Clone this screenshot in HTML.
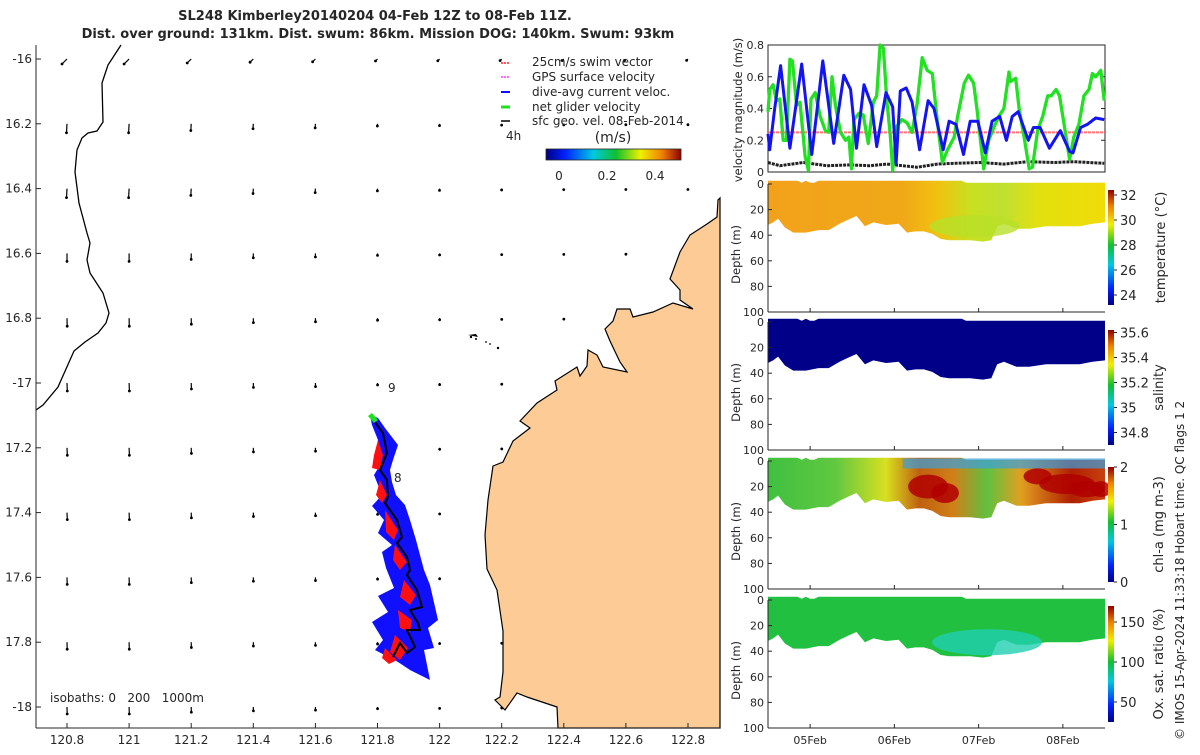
<!DOCTYPE html>
<html><head><meta charset="utf-8"><title>SL248 Kimberley glider mission</title>
<style>
html,body{margin:0;padding:0;background:#fff;}
body{width:1200px;height:750px;overflow:hidden;font-family:"Liberation Sans","DejaVu Sans",sans-serif;}
svg text{font-family:"DejaVu Sans","Liberation Sans",sans-serif;fill:#262626;}
</style></head>
<body>
<svg id="fig" width="1200" height="750" viewBox="0 0 1200 750" xmlns="http://www.w3.org/2000/svg">
<defs>
<linearGradient id="jetV" x1="0" y1="1" x2="0" y2="0">
<stop offset="0" stop-color="#00007f"/><stop offset="0.14" stop-color="#0020ff"/><stop offset="0.35" stop-color="#00c8e0"/><stop offset="0.52" stop-color="#10c030"/><stop offset="0.7" stop-color="#f0f000"/><stop offset="0.86" stop-color="#f08000"/><stop offset="1" stop-color="#8f0000"/>
</linearGradient>
<linearGradient id="jetH" x1="0" y1="0" x2="1" y2="0">
<stop offset="0" stop-color="#00007f"/><stop offset="0.14" stop-color="#0020ff"/><stop offset="0.35" stop-color="#00c8e0"/><stop offset="0.52" stop-color="#10c030"/><stop offset="0.7" stop-color="#f0f000"/><stop offset="0.86" stop-color="#f08000"/><stop offset="1" stop-color="#8f0000"/>
</linearGradient>
<linearGradient id="tempG" x1="0" y1="0" x2="1" y2="0">
<stop offset="0" stop-color="#f2a21a"/><stop offset="0.4" stop-color="#f0a818"/><stop offset="0.5" stop-color="#f2c010"/><stop offset="0.6" stop-color="#c8e020"/><stop offset="0.7" stop-color="#c0e030"/><stop offset="0.8" stop-color="#e2e010"/><stop offset="1" stop-color="#f0dc08"/>
</linearGradient>
<linearGradient id="chlG" x1="0" y1="0" x2="1" y2="0">
<stop offset="0" stop-color="#40c040"/><stop offset="0.2" stop-color="#60c840"/><stop offset="0.35" stop-color="#d8e020"/><stop offset="0.45" stop-color="#c06010"/><stop offset="0.55" stop-color="#d08018"/><stop offset="0.65" stop-color="#60c040"/><stop offset="0.75" stop-color="#e0a020"/><stop offset="0.9" stop-color="#b02000"/><stop offset="1" stop-color="#c84010"/>
</linearGradient>
<clipPath id="mapClip"><rect x="36" y="45" width="684" height="683"/></clipPath>
</defs>

<text x="375" y="20" text-anchor="middle" font-weight="bold" font-size="13">SL248 Kimberley20140204 04-Feb 12Z to 08-Feb 11Z.</text>
<text x="378" y="38" text-anchor="middle" font-weight="bold" font-size="13">Dist. over ground: 131km. Dist. swum: 86km. Mission DOG: 140km. Swum: 93km</text>

<g id="map">
  <g id="arrows" clip-path="url(#mapClip)"></g>
  <path id="land" fill="#fccb96" stroke="#000" stroke-width="1.2" d=""/>
  <path id="leftcoast" fill="none" stroke="#000" stroke-width="1.3" d=""/>
  <g fill="#000">
    <circle cx="471" cy="337" r="1.2"/><circle cx="476" cy="339" r="1"/><circle cx="486" cy="342" r="0.9"/><circle cx="490" cy="344" r="0.9"/><circle cx="498" cy="348" r="1.2"/><path d="M468 335 L476 334 L478 337 Z"/>
  </g>
  <g id="track"></g>
  <line x1="36" y1="45" x2="36" y2="728" stroke="#262626"/>
  <line x1="36" y1="728" x2="720" y2="728" stroke="#262626"/>
  <g id="mapticks" font-size="12"></g>
  <text x="388" y="392" font-size="12">9</text>
  <text x="394" y="482" font-size="12">8</text>
  <text x="50" y="702" font-size="12" xml:space="preserve">isobaths: 0   200   1000m</text>
  <g font-size="12">
    <line x1="501" y1="63" x2="510" y2="63" stroke="#ff2020" stroke-width="1.5" stroke-dasharray="2 1"/><text x="532" y="66">25cm/s swim vector</text>
    <line x1="501" y1="77" x2="510" y2="77" stroke="#ff40ff" stroke-width="1.5" stroke-dasharray="2 1"/><text x="532" y="81">GPS surface velocity</text>
    <line x1="501" y1="92" x2="510" y2="92" stroke="#1010ff" stroke-width="2"/><text x="532" y="96">dive-avg current veloc.</text>
    <line x1="501" y1="107" x2="510" y2="107" stroke="#20e020" stroke-width="3"/><text x="532" y="111">net glider velocity</text>
    <line x1="501" y1="121" x2="510" y2="121" stroke="#000" stroke-width="1.5"/><text x="532" y="125">sfc geo. vel. 08-Feb-2014</text>
    <text x="506" y="140">4h</text>
  </g>
  <g>
    <text x="613" y="142" text-anchor="middle" font-size="14">(m/s)</text>
    <rect x="546" y="149" width="135" height="11" fill="url(#jetH)" stroke="#262626" stroke-width="0.8"/>
    <text x="559" y="180" text-anchor="middle" font-size="12">0</text>
    <text x="607" y="180" text-anchor="middle" font-size="12">0.2</text>
    <text x="655" y="180" text-anchor="middle" font-size="12">0.4</text>
  </g>
</g>

<g id="vel">
  <rect x="768" y="45" width="337" height="127" fill="#fff" stroke="#262626"/>
  <g id="velticks" font-size="11"></g>
  <text transform="translate(742,110) rotate(-90)" text-anchor="middle" font-size="11.5">velocity magnitude (m/s)</text>
  <g id="vellines"></g>
</g>

<g id="sections"></g>

<text transform="translate(1184,740) rotate(-90)" font-size="12">© IMOS 15-Apr-2024 11:33:18 Hobart time. QC flags 1  2</text>
</svg>

<script>
// ===== velocity chart data (days since 04-Feb 12Z) =====
const blueT=[0,0.02,0.08,0.15,0.26,0.40,0.52,0.65,0.78,0.90,0.98,1.05,1.14,1.23,1.29,1.40,1.48,1.52,1.57,1.64,1.71,1.80,1.90,1.97,2.08,2.15,2.23,2.32,2.40,2.49,2.58,2.66,2.75,2.83,2.90,2.97,3.09,3.15,3.23,3.34,3.47,3.58,3.62,3.71,3.79,3.89,3.99];
const blueV=[.24,.14,.40,.67,.15,.68,.11,.70,.18,.61,.52,.15,.55,.42,.16,.50,.41,.05,.51,.53,.44,.14,.45,.40,.14,.32,.30,.11,.32,.32,.12,.32,.35,.20,.35,.38,.20,.28,.28,.15,.26,.13,.12,.28,.30,.34,.33];
const greenT=[0,0.02,0.06,0.10,0.14,0.18,0.22,0.26,0.29,0.34,0.38,0.44,0.48,0.51,0.56,0.62,0.68,0.72,0.76,0.80,0.86,0.92,0.96,0.99,1.02,1.08,1.13,1.19,1.25,1.29,1.33,1.37,1.41,1.45,1.48,1.53,1.59,1.65,1.71,1.77,1.83,1.89,1.95,2.01,2.07,2.13,2.21,2.25,2.33,2.38,2.44,2.48,2.56,2.62,2.68,2.74,2.80,2.86,2.88,2.94,2.98,3.04,3.10,3.14,3.20,3.26,3.32,3.36,3.42,3.46,3.52,3.58,3.63,3.69,3.75,3.81,3.85,3.89,3.95,3.99];
const greenV=[.38,.52,.55,.45,.46,.20,.20,.71,.70,.42,.44,.10,.01,.46,.50,.35,.26,.25,.60,.42,.25,.20,.22,.02,.33,.37,.36,.18,.44,.48,.80,.78,.45,.24,.01,.29,.33,.31,.25,.43,.72,.64,.62,.32,.06,.14,.22,.35,.56,.61,.56,.40,.02,.20,.28,.35,.40,.63,.57,.59,.40,.22,.02,.03,.26,.35,.48,.48,.52,.48,.28,.08,.22,.30,.48,.52,.62,.60,.64,.45];
const blackT=[0,.14,.42,.70,.98,1.21,1.41,1.77,2.01,2.21,2.52,2.80,3.08,3.40,3.63,3.99];
const blackV=[.06,.04,.06,.04,.045,.04,.05,.03,.05,.055,.06,.05,.065,.06,.065,.055];
const swimSpeed=0.25;
const velTicks=[0,0.2,0.4,0.6,0.8];
const velTickLabels=["0","0.2","0.4","0.6","0.8"];

// ===== section data =====
const profT=[0,0.06,0.12,0.2,0.3,0.45,0.6,0.72,0.85,0.95,1.05,1.15,1.25,1.4,1.55,1.65,1.75,1.85,1.95,2.05,2.15,2.25,2.4,2.55,2.65,2.72,2.8,2.95,3.1,3.3,3.5,3.7,3.85,4.0];
const profD=[32,30,27,34,38,38,36,36,31,28,25,33,30,32,31,38,37,37,39,43,44,44,44,45,44,33,31,35,35,33,33,33,31,30];
const dateLabels=["05Feb","06Feb","07Feb","08Feb"];
const dateT=[0.5,1.5,2.5,3.5];
const depthTicks=[0,20,40,60,80,100];
const tempTicks=[24,26,28,30,32];
const salTicks=[34.8,35,35.2,35.4,35.6];
const chlTicks=[0,1,2];
const oxTicks=[50,100,150];

// ===== map data =====
const lonTicks=[120.8,121,121.2,121.4,121.6,121.8,122,122.2,122.4,122.6,122.8];
const lonLabels=["120.8","121","121.2","121.4","121.6","121.8","122","122.2","122.4","122.6","122.8"];
const latTicks=[-16,-16.2,-16.4,-16.6,-16.8,-17,-17.2,-17.4,-17.6,-17.8,-18];
const latLabels=["-16","16.2","16.4","16.6","16.8","-17","17.2","17.4","17.6","17.8","-18"];
const rowU=[-0.03,-0.005,-0.005,0,0.002,0.003,0.003,0.003,0.002,0.002,0.002];
const rowV=[-0.07,-0.09,-0.09,-0.08,-0.08,-0.08,-0.075,-0.07,-0.07,-0.07,-0.07];
const colScale=[1,1,0.75,0.55,0.45,0.25,0.2,0.15,0.12,0.1,0.1];

const NS="http://www.w3.org/2000/svg";
function mk(tag,attrs,parent){const e=document.createElementNS(NS,tag);for(const k in attrs)e.setAttribute(k,attrs[k]);parent.appendChild(e);return e;}

const lonX=l=>67+(l-120.8)/0.2*62.1;
const latY=l=>59+(-16-l)/0.2*64.8;
const arrows=document.getElementById('arrows');
latTicks.forEach((la,i)=>{lonTicks.forEach((lo,j)=>{
  const x0=lonX(lo),y0=latY(la);
  let u=rowU[i]*colScale[j]*100, v=rowV[i]*colScale[j]*100;
  if(i===0){u=-4*colScale[j]-1;v=-4*colScale[j]-1;}
  const x1=x0+u, y1=y0-v;
  const a=mk('line',{x1:x0,y1:y0,x2:x1,y2:y1,stroke:'#000','stroke-width':1.2},arrows);
  
  
  const c=mk('circle',{cx:x1,cy:y1,r:1.4,fill:'#000'},arrows);
  
  
});});
const mt=document.getElementById('mapticks');
lonTicks.forEach((lo,i)=>{const x=lonX(lo);
  mk('line',{x1:x,y1:728,x2:x,y2:723,stroke:'#262626'},mt);
  const t=mk('text',{x:x,y:744,'text-anchor':'middle'},mt);t.textContent=lonLabels[i];
  
  });
latTicks.forEach((la,i)=>{const y=latY(la);
  mk('line',{x1:36,y1:y,x2:41,y2:y,stroke:'#262626'},mt);
  const t=mk('text',{x:32,y:y+4,'text-anchor':'end'},mt);t.textContent=latLabels[i];
  
  });

const coast=[[718,200],[717,217],[707,224],[690,235],[680,252],[670,279],[680,290],[680,300],[693,309],[673,303],[653,312],[633,317],[630,309],[617,309],[613,321],[605,329],[610,341],[620,362],[627,372],[603,367],[597,355],[588,350],[587,366],[580,376],[577,367],[555,381],[557,390],[537,403],[520,421],[530,428],[513,441],[503,462],[493,466],[488,500],[485,535],[487,569],[497,590],[503,631],[503,672],[500,697],[495,700],[505,710],[517,693],[527,697],[557,707],[558,728]];
document.getElementById('land').setAttribute('d','M'+coast.map(p=>p.join(' ')).join(' L')+' L720 728 L720 198 Z');
const lc=[[121,45],[108,65],[102,83],[103,122],[97,131],[88,133],[82,138],[77,150],[75,172],[79,203],[87,233],[90,243],[87,260],[90,273],[103,293],[109,313],[106,323],[98,333],[85,342],[74,351],[58,387],[43,405],[36,410]];
document.getElementById('leftcoast').setAttribute('d','M'+lc.map(p=>p.join(' ')).join(' L'));

const tr=document.getElementById('track');
const bluePoly=[[370,415],[378,418],[385,428],[398,445],[393,460],[390,470],[392,482],[396,495],[405,505],[410,520],[416,540],[420,555],[424,570],[430,585],[438,620],[428,628],[434,648],[424,650],[430,680],[410,670],[398,662],[375,650],[383,640],[372,622],[388,612],[378,596],[394,588],[386,568],[382,552],[392,545],[378,533],[384,520],[372,506],[382,495],[374,475],[380,465],[376,455],[378,440],[372,425]];
const bp=mk('polygon',{points:bluePoly.map(p=>p.join(',')).join(' '),fill:'#1010ff'},tr);


const reds=[[[378,440],[383,455],[380,470],[372,468],[374,455]],[[380,480],[387,495],[382,503],[376,495]],[[385,510],[398,530],[394,540],[386,532]],[[395,545],[407,562],[400,570],[393,560]],[[404,580],[416,595],[410,605],[400,597]],[[398,610],[412,620],[410,632],[400,628]],[[395,635],[408,648],[400,660],[390,652]],[[385,648],[397,660],[389,664],[382,658]]];
reds.forEach(r=>{const e=mk('polygon',{points:r.map(p=>p.join(',')).join(' '),fill:'#ff1010'},tr);
  
  });
const path=[[372,418],[383,433],[387,453],[380,470],[387,480],[388,497],[385,503],[397,520],[402,537],[397,543],[407,557],[410,570],[407,575],[417,590],[422,607],[410,610],[418,623],[420,630],[407,630],[415,647],[407,653],[400,643],[393,657]];
const pl=mk('polyline',{points:path.map(p=>p.join(',')).join(' '),fill:'none',stroke:'#000','stroke-width':2},tr);


const gs=mk('polygon',{points:'368,416 372,413 378,420 374,423',fill:'#20e020'},tr);



const X0=768,X1=1105;
const tx=t=>X0+t/4.0*(X1-X0);
const vy=v=>172-v/0.8*127;
const vt=document.getElementById('velticks');
velTicks.forEach((v,i)=>{const y=vy(v);
  mk('line',{x1:X0,y1:y,x2:X0+4,y2:y,stroke:'#262626'},vt);
  mk('line',{x1:X1,y1:y,x2:X1-4,y2:y,stroke:'#262626'},vt);
  const t=mk('text',{x:X0-4,y:y+4,'text-anchor':'end'},vt);t.textContent=velTickLabels[i];
  
  });
const vl=document.getElementById('vellines');
function series(T,V,color,w,name,dash){
  const pts=T.map((t,i)=>tx(t).toFixed(1)+','+vy(V[i]).toFixed(1)).join(' ');
  const p=mk('polyline',{points:pts,fill:'none',stroke:color,'stroke-width':w,'stroke-linejoin':'round'},vl);
  if(dash)p.setAttribute('stroke-dasharray',dash);
  
  
}
const sw=mk('line',{x1:X0,y1:vy(swimSpeed),x2:X1,y2:vy(swimSpeed),stroke:'#ff5050','stroke-width':2,'stroke-dasharray':'3 1',opacity:0.8},vl);


series(blackT,blackV,'#222',3,'geostrophic-velocity-line','3 1');
series(greenT,greenV,'#22e022',3.3,'net-glider-velocity-line');
series(blueT,blueV,'#1414f0',3,'dive-avg-current-line');

const secs=[
 {y0:184,name:'temperature',fill:'url(#tempG)',cb:[190,305],ticks:tempTicks,lo:23.2,hi:32.4,label:'temperature (°C)',lx:1165},
 {y0:322,name:'salinity',fill:'#000088',cb:[330,445],ticks:salTicks,lo:34.7,hi:35.62,label:'salinity',lx:1163},
 {y0:461,name:'chlorophyll',fill:'url(#chlG)',cb:[467,582],ticks:chlTicks,lo:0,hi:2,label:'chl-a (mg m-3)',lx:1163},
 {y0:600,name:'oxygen',fill:'#22c040',cb:[606,722],ticks:oxTicks,lo:25,hi:170,label:'Ox. sat. ratio (%)',lx:1163}
];
const sg=document.getElementById('sections');
secs.forEach((s,k)=>{
  const g=mk('g',{},sg);
  
  
  const dy=d=>s.y0+d/100*128;
  let d='M'+tx(0)+' '+dy(-2);
  for(let t=0;t<=4.0;t+=0.05){d+=' L'+tx(t).toFixed(1)+' '+dy(((t*20)%1<0.5)?-2.5:-1);}
  for(let i=profT.length-1;i>=0;i--)d+=' L'+tx(profT[i]).toFixed(1)+' '+dy(profD[i]).toFixed(1);
  d+=' Z';
  mk('path',{d:d,fill:s.fill},g);
  if(k===0){
    mk('ellipse',{cx:tx(2.45),cy:dy(33),rx:45,ry:11,fill:'#b8e028',opacity:0.8},g);
  }
  if(k===2){
    mk('rect',{x:tx(1.6),y:dy(-2),width:tx(4)-tx(1.6),height:10,fill:'#3aa0e0',opacity:0.7},g);
    [[1.9,20,20,12],[2.1,25,14,10],[3.2,12,14,8],[3.55,18,28,10],[3.78,22,18,8],[3.95,22,10,8]].forEach(e=>{
      mk('ellipse',{cx:tx(e[0]),cy:dy(e[1]),rx:e[2],ry:e[3],fill:'#b00000',opacity:0.85},g);});
  }
  if(k===3){
    mk('ellipse',{cx:tx(2.6),cy:dy(33),rx:55,ry:13,fill:'#20d0b0',opacity:0.8},g);
  }
  mk('line',{x1:X0,y1:dy(0),x2:X0,y2:dy(100),stroke:'#262626'},g);
  mk('line',{x1:X0,y1:dy(100),x2:X1,y2:dy(100),stroke:'#262626'},g);
  depthTicks.forEach(v=>{const y=dy(v);
    mk('line',{x1:X0,y1:y,x2:X0+4,y2:y,stroke:'#262626'},g);
    const t=mk('text',{x:X0-4,y:y+4,'text-anchor':'end','font-size':11},g);t.textContent=v;
    
    });
  dateT.forEach(dt=>{mk('line',{x1:tx(dt),y1:dy(100),x2:tx(dt),y2:dy(100)-4,stroke:'#262626'},g);});
  const yl=mk('text',{transform:'translate(740,'+dy(55)+') rotate(-90)','text-anchor':'middle','font-size':11.5},g);yl.textContent='Depth (m)';
  
  
  const cb=mk('rect',{x:1108,y:s.cb[0],width:6,height:s.cb[1]-s.cb[0],fill:'url(#jetV)'},g);
  
  
  s.ticks.forEach(v=>{const y=s.cb[1]-(v-s.lo)/(s.hi-s.lo)*(s.cb[1]-s.cb[0]);
    mk('line',{x1:1114,y1:y,x2:1117,y2:y,stroke:'#262626'},g);
    const t=mk('text',{x:1120,y:y+5,'font-size':13},g);t.textContent=v;
    
    });
  const cl=mk('text',{transform:'translate('+s.lx+','+((s.cb[0]+s.cb[1])/2)+') rotate(-90)','text-anchor':'middle','font-size':13},g);cl.textContent=s.label;
  
  
});
const lastY=727;
dateT.forEach((dt,i)=>{const t=mk('text',{x:tx(dt),y:lastY+17,'text-anchor':'middle','font-size':11},sg);t.textContent=dateLabels[i];
  
  });
</script>
</body></html>
